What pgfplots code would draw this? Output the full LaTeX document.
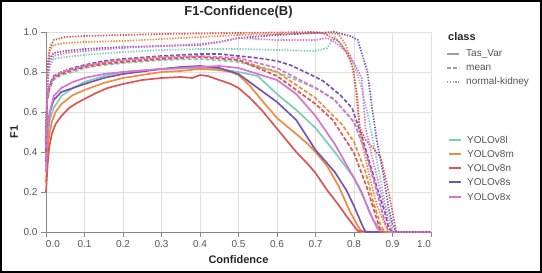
\documentclass[border=0pt]{standalone}
\usepackage{pgfplots}
\pgfplotsset{compat=1.18}
\usepackage{fontspec}
\setmainfont{Liberation Sans}
\definecolor{colL}{HTML}{80CDB6}
\definecolor{colM}{HTML}{F28A40}
\definecolor{colN}{HTML}{DE5555}
\definecolor{colS}{HTML}{7A55B0}
\definecolor{colX}{HTML}{DA72D2}
\definecolor{gridc}{HTML}{E0E0E0}
\definecolor{axc}{HTML}{888888}
\definecolor{tickc}{HTML}{555555}
\definecolor{legc}{HTML}{A0A0A0}
\tikzset{
  solidl/.style={line width=1.7pt},
  dashl/.style={line width=1.7pt, dash pattern=on 4pt off 2pt},
  dotl/.style={line width=1.7pt, dash pattern=on 1.4pt off 1.4pt},
}
\begin{document}
\begin{tikzpicture}[x=1pt,y=1pt]
\draw[line width=2pt, black] (1,1) rectangle (541,272);
\begin{axis}[
  at={(46pt,41pt)}, anchor=south west,
  scale only axis, width=385pt, height=200pt,
  xmin=0, xmax=1, ymin=0, ymax=1,
  axis lines=left,
  axis line style={-, axc, line width=0.9pt},
  tick align=outside, major tick length=5pt,
  tick style={axc, line width=0.8pt},
  grid=major, grid style={gridc, line width=0.7pt},
  xtick={0,0.1,0.2,0.3,0.4,0.5,0.6,0.7,0.8,0.9,1},
  xticklabels={\makebox[0pt][l]{0.0},0.1,0.2,0.3,0.4,0.5,0.6,0.7,0.8,0.9,\makebox[0pt][r]{1.0}},
  ytick={0,0.2,0.4,0.6,0.8,1},
  yticklabels={0.0,0.2,0.4,0.6,0.8,1.0},
  ticklabel style={font=\fontsize{10}{12}\selectfont, text=tickc},
  clip=false,
]
% ---- Tas_Var (solid)
\addplot[colL, solidl] coordinates {(0,0.3)(0.004,0.48)(0.01,0.56)(0.02,0.62)(0.04,0.68)(0.07,0.72)(0.1,0.75)(0.15,0.78)(0.2,0.80)(0.3,0.815)(0.4,0.82)(0.45,0.815)(0.5,0.80)(0.55,0.78)(0.6,0.69)(0.65,0.61)(0.7,0.52)(0.75,0.40)(0.8,0.27)(0.83,0.15)(0.85,0.06)(0.87,0.01)(0.88,0)(1,0)};
\addplot[colM, solidl] coordinates {(0,0.25)(0.004,0.4)(0.008,0.48)(0.015,0.55)(0.025,0.6)(0.04,0.64)(0.07,0.685)(0.1,0.71)(0.15,0.745)(0.2,0.77)(0.25,0.785)(0.3,0.80)(0.35,0.805)(0.4,0.815)(0.45,0.81)(0.48,0.80)(0.5,0.785)(0.53,0.73)(0.56,0.66)(0.6,0.57)(0.65,0.49)(0.68,0.44)(0.7,0.40)(0.73,0.33)(0.76,0.23)(0.79,0.10)(0.81,0.03)(0.82,0)(1,0)};
\addplot[colN, solidl] coordinates {(0,0.2)(0.004,0.33)(0.008,0.42)(0.015,0.49)(0.025,0.54)(0.04,0.58)(0.06,0.62)(0.08,0.645)(0.1,0.665)(0.13,0.695)(0.16,0.72)(0.2,0.74)(0.25,0.76)(0.3,0.77)(0.35,0.775)(0.38,0.77)(0.4,0.785)(0.42,0.78)(0.45,0.76)(0.48,0.74)(0.5,0.72)(0.53,0.67)(0.56,0.61)(0.59,0.54)(0.62,0.47)(0.65,0.40)(0.68,0.34)(0.7,0.295)(0.73,0.21)(0.76,0.135)(0.78,0.08)(0.8,0.03)(0.81,0.005)(0.85,0)(1,0)};
\addplot[colS, solidl] coordinates {(0,0.35)(0.004,0.52)(0.01,0.6)(0.02,0.66)(0.04,0.70)(0.07,0.72)(0.1,0.74)(0.15,0.77)(0.2,0.79)(0.3,0.815)(0.35,0.825)(0.4,0.83)(0.45,0.82)(0.5,0.79)(0.55,0.72)(0.6,0.65)(0.65,0.56)(0.7,0.41)(0.75,0.30)(0.78,0.21)(0.8,0.13)(0.82,0.04)(0.83,0)(1,0)};
\addplot[colX, solidl] coordinates {(0,0.3)(0.004,0.5)(0.01,0.6)(0.02,0.68)(0.04,0.72)(0.07,0.75)(0.1,0.77)(0.15,0.79)(0.2,0.80)(0.3,0.815)(0.4,0.825)(0.45,0.83)(0.5,0.82)(0.55,0.79)(0.6,0.76)(0.65,0.69)(0.7,0.58)(0.75,0.44)(0.8,0.27)(0.82,0.20)(0.84,0.10)(0.86,0.02)(0.87,0)(1,0)};
% ---- mean (dashed)
\addplot[colL, dashl] coordinates {(0,0.4)(0.003,0.65)(0.01,0.72)(0.02,0.76)(0.04,0.785)(0.07,0.80)(0.1,0.82)(0.15,0.835)(0.2,0.845)(0.3,0.86)(0.4,0.865)(0.5,0.85)(0.6,0.80)(0.7,0.72)(0.745,0.67)(0.8,0.55)(0.83,0.40)(0.86,0.20)(0.88,0.05)(0.89,0)(1,0)};
\addplot[colM, dashl] coordinates {(0,0.4)(0.003,0.66)(0.01,0.73)(0.02,0.77)(0.04,0.795)(0.07,0.81)(0.1,0.83)(0.15,0.845)(0.2,0.855)(0.3,0.87)(0.4,0.875)(0.5,0.86)(0.6,0.80)(0.7,0.67)(0.77,0.535)(0.8,0.45)(0.83,0.30)(0.85,0.15)(0.87,0.03)(0.88,0)(1,0)};
\addplot[colN, dashl] coordinates {(0,0.4)(0.003,0.66)(0.01,0.73)(0.02,0.77)(0.04,0.79)(0.07,0.81)(0.1,0.825)(0.15,0.84)(0.2,0.85)(0.3,0.865)(0.4,0.875)(0.5,0.86)(0.6,0.78)(0.7,0.64)(0.745,0.56)(0.8,0.395)(0.833,0.225)(0.86,0.06)(0.87,0)(1,0)};
\addplot[colS, dashl] coordinates {(0,0.45)(0.003,0.67)(0.01,0.74)(0.02,0.78)(0.04,0.80)(0.07,0.82)(0.1,0.835)(0.15,0.855)(0.2,0.865)(0.3,0.88)(0.4,0.89)(0.45,0.89)(0.5,0.88)(0.55,0.87)(0.6,0.855)(0.634,0.835)(0.7,0.775)(0.72,0.755)(0.764,0.685)(0.795,0.62)(0.82,0.48)(0.84,0.35)(0.86,0.22)(0.88,0.10)(0.89,0.02)(0.9,0)(1,0)};
\addplot[colX, dashl] coordinates {(0,0.42)(0.003,0.66)(0.01,0.73)(0.02,0.775)(0.04,0.80)(0.07,0.815)(0.1,0.83)(0.15,0.85)(0.2,0.86)(0.3,0.875)(0.4,0.88)(0.5,0.87)(0.6,0.82)(0.7,0.72)(0.75,0.66)(0.8,0.55)(0.83,0.40)(0.86,0.20)(0.88,0.05)(0.89,0)(1,0)};
% ---- normal-kidney (dotted)
\addplot[colL, dotl] coordinates {(0,0.5)(0.005,0.75)(0.01,0.83)(0.02,0.865)(0.05,0.875)(0.1,0.885)(0.2,0.90)(0.3,0.91)(0.4,0.915)(0.5,0.915)(0.6,0.91)(0.7,0.905)(0.73,0.92)(0.75,0.975)(0.77,0.93)(0.8,0.84)(0.82,0.72)(0.84,0.55)(0.86,0.35)(0.88,0.15)(0.9,0.02)(0.91,0)(1,0)};
\addplot[colM, dotl] coordinates {(0,0.5)(0.005,0.85)(0.01,0.91)(0.02,0.935)(0.05,0.945)(0.1,0.95)(0.2,0.955)(0.3,0.965)(0.4,0.975)(0.5,0.985)(0.6,0.99)(0.7,0.995)(0.76,0.99)(0.78,0.93)(0.8,0.80)(0.81,0.60)(0.82,0.45)(0.84,0.28)(0.86,0.13)(0.88,0.04)(0.89,0)(1,0)};
\addplot[colN, dotl] coordinates {(0,0.5)(0.005,0.85)(0.01,0.92)(0.02,0.96)(0.05,0.975)(0.1,0.98)(0.2,0.985)(0.3,0.99)(0.5,0.995)(0.7,1.0)(0.72,0.995)(0.76,0.955)(0.78,0.90)(0.795,0.835)(0.808,0.685)(0.815,0.52)(0.83,0.46)(0.85,0.42)(0.87,0.37)(0.89,0.2)(0.905,0.05)(0.91,0)(1,0)};
\addplot[colS, dotl] coordinates {(0,0.5)(0.005,0.8)(0.01,0.87)(0.02,0.895)(0.05,0.905)(0.1,0.915)(0.2,0.925)(0.3,0.93)(0.4,0.935)(0.45,0.95)(0.5,0.97)(0.6,0.985)(0.7,0.995)(0.75,1.0)(0.79,0.98)(0.81,0.96)(0.835,0.80)(0.847,0.62)(0.86,0.45)(0.875,0.30)(0.89,0.12)(0.9,0.04)(0.91,0)(1,0)};
\addplot[colX, dotl] coordinates {(0,0.5)(0.005,0.78)(0.01,0.85)(0.02,0.88)(0.05,0.895)(0.1,0.905)(0.2,0.92)(0.3,0.93)(0.4,0.94)(0.45,0.95)(0.5,0.97)(0.6,0.96)(0.7,0.96)(0.73,0.97)(0.75,0.95)(0.79,0.885)(0.82,0.77)(0.83,0.52)(0.85,0.35)(0.87,0.2)(0.89,0.05)(0.9,0)(1,0)};
\end{axis}
% titles
\node[font=\bfseries\fontsize{13}{15}\selectfont, text=black!85] at (238.5,260.5) {F1-Confidence(B)};
\node[font=\bfseries\fontsize{11}{13}\selectfont, text=black!85] at (238.5,13) {Confidence};
\node[font=\bfseries\fontsize{11}{13}\selectfont, text=black!85, rotate=90] at (14,141) {F1};
% legend
\node[anchor=west, inner sep=0pt, font=\bfseries\fontsize{11}{13}\selectfont, text=black!85] at (448,236) {class};
\begin{scope}[font=\fontsize{10}{12}\selectfont]
\draw[legc, line width=1.6pt] (447,219) -- (459,219);
\node[anchor=west, inner sep=0pt, text=tickc] at (466,219) {Tas\_Var};
\draw[legc, line width=1.6pt, dash pattern=on 4pt off 2pt] (447,205) -- (459,205);
\node[anchor=west, inner sep=0pt, text=tickc] at (466,205) {mean};
\draw[legc, line width=1.6pt, dash pattern=on 1.4pt off 1.4pt] (447,191) -- (459,191);
\node[anchor=west, inner sep=0pt, text=tickc] at (466,191) {normal-kidney};
\draw[colL, line width=1.6pt] (449,133) -- (461,133);
\node[anchor=west, inner sep=0pt, text=tickc] at (467,133) {YOLOv8l};
\draw[colM, line width=1.6pt] (449,119) -- (461,119);
\node[anchor=west, inner sep=0pt, text=tickc] at (467,119) {YOLOv8m};
\draw[colN, line width=1.6pt] (449,105) -- (461,105);
\node[anchor=west, inner sep=0pt, text=tickc] at (467,105) {YOLOv8n};
\draw[colS, line width=1.6pt] (449,91) -- (461,91);
\node[anchor=west, inner sep=0pt, text=tickc] at (467,91) {YOLOv8s};
\draw[colX, line width=1.6pt] (449,76) -- (461,76);
\node[anchor=west, inner sep=0pt, text=tickc] at (467,76) {YOLOv8x};
\end{scope}
\end{tikzpicture}
\end{document}
